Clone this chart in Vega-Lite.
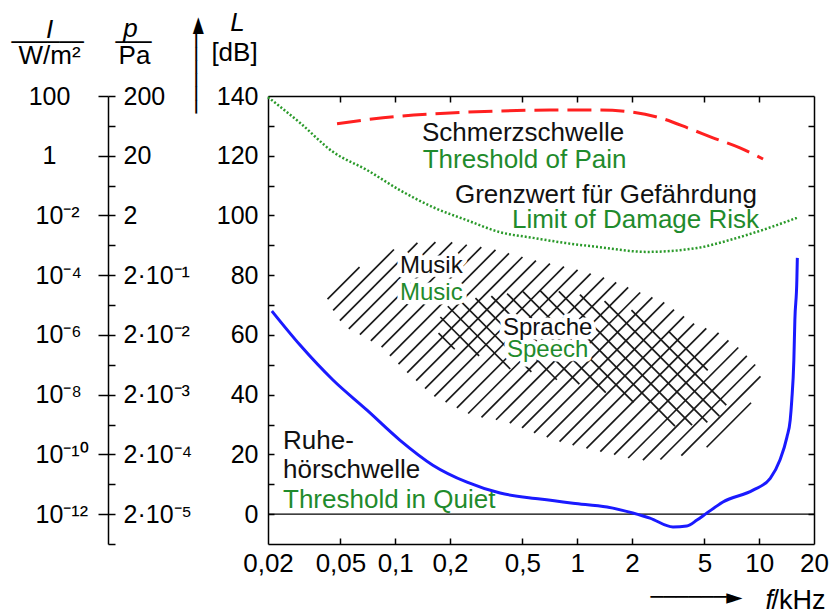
{
  "$schema": "https://vega.github.io/schema/vega-lite/v6.json",
  "width": 546,
  "height": 448,
  "autosize": {"type": "none"},
  "padding": {"left": 268, "top": 96, "right": 18, "bottom": 69},
  "background": "white",
  "config": {
    "view": {"stroke": null},
    "axis": {"grid": false, "labelFont": "Liberation Sans", "titleFont": "Liberation Sans", "labelColor": "black", "titleColor": "black", "tickColor": "black", "domainColor": "black", "titleFontWeight": "normal", "labelFlush": false, "labelOverlap": false, "domainWidth": 1.5, "tickWidth": 1.5, "titlePadding": 0}
  },
  "resolve": {"scale": {"x": "independent"}, "axis": {"x": "independent", "y": "independent"}},
  "layer": [
    {
      "data": {"values": [
        {"u1": -1.372, "L1": 72.0, "u2": -1.196, "L2": 82.7},
        {"u1": -1.341, "L1": 68.2, "u2": -1.007, "L2": 88.6},
        {"u1": -1.304, "L1": 64.8, "u2": -0.878, "L2": 90.8},
        {"u1": -1.255, "L1": 62.0, "u2": -0.779, "L2": 91.1},
        {"u1": -1.194, "L1": 60.1, "u2": -0.687, "L2": 91.0},
        {"u1": -1.134, "L1": 58.0, "u2": -0.607, "L2": 90.2},
        {"u1": -1.075, "L1": 55.9, "u2": -0.527, "L2": 89.4},
        {"u1": -1.029, "L1": 53.0, "u2": -0.449, "L2": 88.5},
        {"u1": -0.982, "L1": 50.2, "u2": -0.375, "L2": 87.3},
        {"u1": -0.934, "L1": 47.4, "u2": -0.301, "L2": 86.1},
        {"u1": -0.885, "L1": 44.7, "u2": -0.227, "L2": 84.9},
        {"u1": -0.836, "L1": 42.0, "u2": -0.150, "L2": 83.9},
        {"u1": -0.785, "L1": 39.4, "u2": -0.073, "L2": 82.9},
        {"u1": -0.723, "L1": 37.5, "u2": 0.002, "L2": 81.8},
        {"u1": -0.661, "L1": 35.6, "u2": 0.074, "L2": 80.5},
        {"u1": -0.599, "L1": 33.7, "u2": 0.147, "L2": 79.2},
        {"u1": -0.526, "L1": 32.4, "u2": 0.214, "L2": 77.6},
        {"u1": -0.446, "L1": 31.6, "u2": 0.280, "L2": 75.9},
        {"u1": -0.370, "L1": 30.5, "u2": 0.346, "L2": 74.2},
        {"u1": -0.303, "L1": 28.9, "u2": 0.413, "L2": 72.6},
        {"u1": -0.237, "L1": 27.2, "u2": 0.478, "L2": 70.9},
        {"u1": -0.167, "L1": 25.8, "u2": 0.532, "L2": 68.5},
        {"u1": -0.097, "L1": 24.3, "u2": 0.587, "L2": 66.2},
        {"u1": -0.025, "L1": 23.1, "u2": 0.642, "L2": 63.8},
        {"u1": 0.051, "L1": 22.0, "u2": 0.709, "L2": 62.2},
        {"u1": 0.127, "L1": 20.9, "u2": 0.777, "L2": 60.7},
        {"u1": 0.203, "L1": 19.9, "u2": 0.831, "L2": 58.2},
        {"u1": 0.280, "L1": 18.8, "u2": 0.885, "L2": 55.8},
        {"u1": 0.361, "L1": 18.1, "u2": 0.932, "L2": 53.0},
        {"u1": 0.457, "L1": 18.3, "u2": 0.978, "L2": 50.1},
        {"u1": 0.572, "L1": 19.6, "u2": 1.007, "L2": 46.1},
        {"u1": 0.711, "L1": 22.4, "u2": 0.955, "L2": 37.3}
      ]},
      "mark": {"type": "rule", "color": "#1a1a1a", "strokeWidth": 1.7},
      "encoding": {
        "x": {"field": "u1", "type": "quantitative", "scale": {"type": "linear", "domain": [-1.69897, 1.30103], "nice": false, "zero": false}, "axis": null},
        "x2": {"field": "u2"},
        "y": {"field": "L1", "type": "quantitative", "scale": {"domain": [-10, 140], "nice": false, "zero": false},
          "axis": {"orient": "left", "values": [0, 10, 20, 30, 40, 50, 60, 70, 80, 90, 100, 110, 120, 130], "labels": false, "domain": false, "ticks": true, "tickSize": -6, "title": "L", "titleFontStyle": "italic", "titleFontSize": 26, "titleAngle": 0, "titleX": -31, "titleY": -66, "titleAlign": "center", "titleBaseline": "alphabetic"}},
        "y2": {"field": "L2"}
      }
    },
    {
      "data": {"values": [
        {"u1": -0.762, "L1": 60.6, "u2": -0.673, "L2": 55.2},
        {"u1": -0.752, "L1": 66.0, "u2": -0.539, "L2": 53.0},
        {"u1": -0.711, "L1": 69.6, "u2": -0.368, "L2": 48.6},
        {"u1": -0.649, "L1": 71.8, "u2": -0.252, "L2": 47.6},
        {"u1": -0.559, "L1": 72.3, "u2": -0.112, "L2": 45.0},
        {"u1": -0.472, "L1": 73.0, "u2": 0.012, "L2": 43.5},
        {"u1": -0.385, "L1": 73.8, "u2": 0.157, "L2": 40.7},
        {"u1": -0.298, "L1": 74.5, "u2": 0.310, "L2": 37.4},
        {"u1": -0.205, "L1": 74.9, "u2": 0.537, "L2": 29.5},
        {"u1": -0.101, "L1": 74.6, "u2": 0.631, "L2": 29.8},
        {"u1": 0.015, "L1": 73.5, "u2": 0.715, "L2": 30.7},
        {"u1": 0.150, "L1": 71.3, "u2": 0.781, "L2": 32.8},
        {"u1": 0.298, "L1": 68.3, "u2": 0.819, "L2": 36.5},
        {"u1": 0.501, "L1": 61.3, "u2": 0.717, "L2": 48.1}
      ]},
      "mark": {"type": "rule", "color": "#1a1a1a", "strokeWidth": 1.7},
      "encoding": {
        "x": {"field": "u1", "type": "quantitative", "scale": {"type": "linear", "domain": [-1.69897, 1.30103], "nice": false, "zero": false}, "axis": null},
        "x2": {"field": "u2"},
        "y": {"field": "L1", "type": "quantitative", "scale": {"domain": [-10, 140], "nice": false, "zero": false},
          "axis": {"orient": "left", "labels": false, "domain": false, "ticks": false, "title": "──────\u00a0\u00a0\u00a0\u00a0\u00a0───", "titleFont": "DejaVu Sans", "titleFontSize": 20, "titleAngle": 0, "titleX": -257, "titleY": -54, "titleAlign": "left", "titleBaseline": "middle"}},
        "y2": {"field": "L2"}
      }
    },
    {
      "data": {"name": "labels", "values": [
        {"f": 0.1403, "L": 124.9, "text": "Schmerzschwelle", "lang": "de", "grp": "curve"},
        {"f": 0.1416, "L": 115.9, "text": "Threshold of Pain", "lang": "en", "grp": "curve"},
        {"f": 0.213, "L": 104.2, "text": "Grenzwert für Gefährdung", "lang": "de", "grp": "curve"},
        {"f": 0.438, "L": 95.8, "text": "Limit of Damage Risk", "lang": "en", "grp": "curve"},
        {"f": 0.1062, "L": 80.7, "text": "Musik", "lang": "de", "grp": "region"},
        {"f": 0.1062, "L": 71.7, "text": "Music", "lang": "en", "grp": "region"},
        {"f": 0.391, "L": 59.9, "text": "Sprache", "lang": "de", "grp": "region"},
        {"f": 0.411, "L": 52.6, "text": "Speech", "lang": "en", "grp": "region"},
        {"f": 0.02418, "L": 21.8, "text": "Ruhe-", "lang": "de", "grp": "curve"},
        {"f": 0.02418, "L": 12.1, "text": "hörschwelle", "lang": "de", "grp": "curve"},
        {"f": 0.02418, "L": 2.0, "text": "Threshold in Quiet", "lang": "en", "grp": "curve"}
      ]},
      "transform": [{"filter": "datum.grp == 'region'"}],
      "mark": {"type": "text", "font": "Liberation Sans", "align": "left", "baseline": "alphabetic", "fill": "white", "stroke": "white", "strokeWidth": 9, "strokeJoin": "round"},
      "encoding": {
        "x": {"field": "f", "type": "quantitative", "scale": {"type": "log", "domain": [0.02, 20], "nice": false}, "axis": null},
        "y": {"field": "L", "type": "quantitative", "scale": {"domain": [-10, 140], "nice": false, "zero": false},
          "axis": {"orient": "left", "offset": 219, "values": [120, 140], "labelExpr": "datum.value == 140 ? '100' : '1'", "labelAlign": "center", "labelPadding": 0, "ticks": false, "domain": false, "labelFontSize": 25, "title": "W/m²", "titleFontSize": 26, "titleAngle": 0, "titleX": 0, "titleY": -33, "titleAlign": "center", "titleBaseline": "alphabetic"}},
        "text": {"field": "text"},
        "size": {"field": "grp", "type": "nominal", "scale": {"type": "ordinal", "domain": ["curve", "region"], "range": [26, 24]}, "legend": null}
      }
    },
    {
      "data": {"name": "labels"},
      "mark": {"type": "text", "font": "Liberation Sans", "align": "left", "baseline": "alphabetic"},
      "encoding": {
        "x": {"field": "f", "type": "quantitative", "scale": {"type": "log", "domain": [0.02, 20], "nice": false}, "axis": null},
        "y": {"field": "L", "type": "quantitative", "scale": {"domain": [-10, 140], "nice": false, "zero": false},
          "axis": {"orient": "left", "offset": 233, "values": [0, 20, 40, 60, 80, 100], "labelExpr": "datum.value == 100 ? '10⁻²' : datum.value == 80 ? '10⁻⁴' : datum.value == 60 ? '10⁻⁶' : datum.value == 40 ? '10⁻⁸' : datum.value == 20 ? '10⁻¹⁰' : '10⁻¹²'", "labelAlign": "left", "labelPadding": 0, "ticks": false, "domain": false, "labelFontSize": 25, "title": "I", "titleFontStyle": "italic", "titleFontSize": 26, "titleAngle": 0, "titleX": 14, "titleY": -59, "titleAlign": "center", "titleBaseline": "alphabetic"}},
        "text": {"field": "text"},
        "color": {"field": "lang", "type": "nominal", "scale": {"domain": ["de", "en"], "range": ["#111111", "#1f8b2c"]}, "legend": null},
        "size": {"field": "grp", "type": "nominal", "scale": {"type": "ordinal", "domain": ["curve", "region"], "range": [26, 24]}, "legend": null}
      }
    },
    {
      "data": {"values": [{"L": 0}]},
      "mark": {"type": "rule", "color": "black", "strokeWidth": 1.2},
      "encoding": {
        "y": {"field": "L", "type": "quantitative", "scale": {"domain": [-10, 140], "nice": false, "zero": false},
          "axis": {"orient": "left", "offset": 160, "values": [-10, 0, 10, 20, 30, 40, 50, 60, 70, 80, 90, 100, 110, 120, 130, 140], "labels": false, "domain": false, "tickSize": -7, "title": "Pa", "titleFontSize": 26, "titleAngle": 0, "titleX": 26, "titleY": -33, "titleAlign": "center", "titleBaseline": "alphabetic"}}
      }
    },
    {
      "data": {"values": [
        {"f": 0.021, "L": 68.0}, {"f": 0.030, "L": 56.6}, {"f": 0.0455, "L": 44.9}, {"f": 0.070, "L": 34.8},
        {"f": 0.106, "L": 24.8}, {"f": 0.161, "L": 16.4}, {"f": 0.248, "L": 10.7}, {"f": 0.377, "L": 7.05},
        {"f": 0.625, "L": 5.05}, {"f": 0.948, "L": 3.66}, {"f": 1.46, "L": 2.36}, {"f": 2.02, "L": 0.37},
        {"f": 2.51, "L": -1.33}, {"f": 3.36, "L": -4.32}, {"f": 4.0, "L": -4.0}, {"f": 4.55, "L": -2.0},
        {"f": 5.16, "L": 0.37}, {"f": 6.32, "L": 4.06}, {"f": 9.25, "L": 8.05}, {"f": 11.5, "L": 12.0},
        {"f": 13.0, "L": 18.1}, {"f": 14.2, "L": 25.8}, {"f": 14.8, "L": 31.5}, {"f": 15.1, "L": 38.2},
        {"f": 15.5, "L": 51.5}, {"f": 15.7, "L": 65.0}, {"f": 16.1, "L": 78.4}, {"f": 16.2, "L": 85.8}
      ]},
      "mark": {"type": "line", "color": "#1a1aff", "strokeWidth": 3, "interpolate": "monotone"},
      "encoding": {
        "x": {"field": "f", "type": "quantitative", "scale": {"type": "log", "domain": [0.02, 20], "nice": false},
          "axis": {"orient": "bottom", "values": [0.02, 0.05, 0.1, 0.2, 0.5, 1, 2, 5, 10, 20], "format": "~g", "labelExpr": "replace(datum.label, '.', ',')", "ticks": false, "domain": true, "labelFontSize": 26, "labelPadding": 6, "title": "/kHz", "titleFontSize": 27, "titleX": 503, "titleY": 64, "titleAlign": "left", "titleBaseline": "alphabetic"}},
        "y": {"field": "L", "type": "quantitative", "scale": {"domain": [-10, 140], "nice": false, "zero": false},
          "axis": {"orient": "left", "values": [0, 20, 40, 60, 80, 100, 120, 140], "ticks": false, "domain": true, "labelPadding": 10, "labelFontSize": 25, "title": "[dB]", "titleFontSize": 26, "titleAngle": 0, "titleX": -34, "titleY": -36, "titleAlign": "center", "titleBaseline": "alphabetic"}}
      }
    },
    {
      "data": {"values": [
        {"f": 0.02, "L": 139.6}, {"f": 0.030, "L": 131.0}, {"f": 0.0455, "L": 121.3}, {"f": 0.070, "L": 115.2},
        {"f": 0.106, "L": 108.5}, {"f": 0.161, "L": 102.8}, {"f": 0.248, "L": 98.4}, {"f": 0.377, "L": 94.4},
        {"f": 0.572, "L": 92.5}, {"f": 0.857, "L": 90.8}, {"f": 1.28, "L": 89.5}, {"f": 2.42, "L": 87.8},
        {"f": 4.55, "L": 89.1}, {"f": 6.9, "L": 91.8}, {"f": 10.5, "L": 95.2}, {"f": 16.1, "L": 99.2}
      ]},
      "mark": {"type": "line", "color": "#2a9a2a", "strokeWidth": 2.5, "strokeDash": [2, 2], "interpolate": "monotone"},
      "encoding": {
        "x": {"field": "f", "type": "quantitative", "scale": {"type": "log", "domain": [0.02, 20], "nice": false},
          "axis": {"orient": "top", "values": [0.05, 0.1, 0.2, 0.5, 1, 2, 5, 10], "labels": false, "tickSize": -6, "domain": true, "title": "──────►", "titleFont": "DejaVu Sans", "titleFontSize": 21, "titleAngle": 0, "titleX": 382, "titleY": 501, "titleAlign": "left", "titleBaseline": "middle"}},
        "y": {"field": "L", "type": "quantitative", "scale": {"domain": [-10, 140], "nice": false, "zero": false},
          "axis": {"orient": "right", "values": [0, 10, 20, 30, 40, 50, 60, 70, 80, 90, 100, 110, 120, 130], "labels": false, "tickSize": -6, "domain": true, "title": "──────►", "titleFont": "DejaVu Sans", "titleFontSize": 22, "titleAngle": 270, "titleX": -618, "titleY": 17, "titleAlign": "left", "titleBaseline": "middle"}}
      }
    },
    {
      "data": {"values": [
        {"f": 0.0479, "L": 130.7}, {"f": 0.0857, "L": 132.7}, {"f": 0.2, "L": 134.3}, {"f": 0.376, "L": 135.0},
        {"f": 0.708, "L": 135.3}, {"f": 1.33, "L": 135.3}, {"f": 1.95, "L": 134.7}, {"f": 2.85, "L": 132.7},
        {"f": 4.17, "L": 129.0}, {"f": 5.57, "L": 126.0}, {"f": 7.84, "L": 122.6}, {"f": 10.5, "L": 118.9}
      ]},
      "mark": {"type": "line", "color": "#ff2020", "strokeWidth": 3, "strokeDash": [24, 9], "interpolate": "monotone"},
      "encoding": {
        "x": {"field": "f", "type": "quantitative", "scale": {"type": "log", "domain": [0.02, 20], "nice": false},
          "axis": {"orient": "bottom", "values": [0.05, 0.1, 0.2, 0.5, 1, 2, 5, 10], "labels": false, "domain": false, "tickSize": -6, "title": "f", "titleFontStyle": "italic", "titleFontSize": 27, "titleX": 497, "titleY": 64, "titleAlign": "left", "titleBaseline": "alphabetic"}},
        "y": {"field": "L", "type": "quantitative", "scale": {"domain": [-10, 140], "nice": false, "zero": false},
          "axis": {"orient": "left", "offset": 160, "values": [0, 20, 40, 60, 80, 100, 120, 140], "tickSize": 10, "domain": true, "labelAlign": "left", "labelPadding": -25, "labelFontSize": 25, "labelExpr": "datum.value == 140 ? '200' : datum.value == 120 ? '20' : datum.value == 100 ? '2' : datum.value == 80 ? '2·10⁻¹' : datum.value == 60 ? '2·10⁻²' : datum.value == 40 ? '2·10⁻³' : datum.value == 20 ? '2·10⁻⁴' : '2·10⁻⁵'", "title": "p", "titleFontStyle": "italic", "titleFontSize": 26, "titleAngle": 0, "titleX": 22, "titleY": -60, "titleAlign": "center", "titleBaseline": "alphabetic"}}
      }
    }
  ]
}
